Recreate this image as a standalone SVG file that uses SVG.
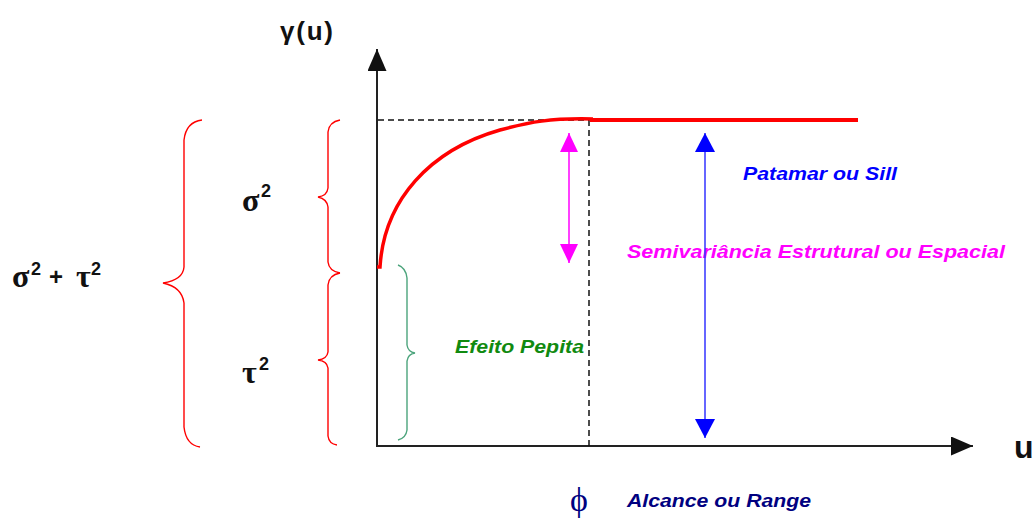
<svg xmlns="http://www.w3.org/2000/svg" width="1034" height="518" viewBox="0 0 1034 518">
<style>
.ax{stroke:#222;stroke-width:2;fill:none}
.dash{stroke:#111;stroke-width:1.5;stroke-dasharray:6 4;fill:none}
.brace{stroke:#ff0000;stroke-width:1.4;fill:none}
.gbrace{stroke:#4ca47c;stroke-width:1.4;fill:none}
.sym{font-family:"Liberation Sans",Arial,sans-serif;font-weight:bold;fill:#111}
.grk{font-family:"Liberation Serif","DejaVu Serif",serif;font-weight:bold;fill:#111}
.lbl{font-family:"Liberation Sans",Arial,sans-serif;font-weight:bold;font-style:italic;font-size:18px}
</style>
<defs>
<marker id="mh" markerUnits="userSpaceOnUse" markerWidth="20" markerHeight="20" refX="19" refY="9" orient="auto-start-reverse"><path d="M0,0 L19,9 L0,18 z" fill="#ff00ff"/></marker>
<marker id="bh" markerUnits="userSpaceOnUse" markerWidth="22" markerHeight="22" refX="19" refY="10" orient="auto-start-reverse"><path d="M0,0 L19,10 L0,20 z" fill="#0000ff"/></marker>
<marker id="kh" markerUnits="userSpaceOnUse" markerWidth="24" markerHeight="22" refX="22" refY="9.5" orient="auto"><path d="M0,0 L22,9.5 L0,19 z" fill="#111"/></marker>
</defs>

<g id="axes">
<line class="ax" x1="377" y1="446" x2="377" y2="49" marker-end="url(#kh)"/>
<line class="ax" x1="376" y1="446" x2="973" y2="446" marker-end="url(#kh)"/>
<text class="sym" x="280" y="40" font-size="26" textLength="53">γ(u)</text>
<text class="sym" x="1014" y="458" font-size="32">u</text>
</g>

<g id="guides">
<line class="dash" x1="378" y1="120" x2="589" y2="120"/>
<line class="dash" x1="589" y1="120" x2="589" y2="446"/>
</g>

<g id="curve">
<path d="M377,267 L380,267 C384,200 430,150 500,130 C530,122 550,118 593,119" stroke="#ff0000" stroke-width="3.5" fill="none"/>
<line x1="590" y1="120" x2="858" y2="120" stroke="#ff0000" stroke-width="4"/>
</g>

<g id="brace-total">
<path class="brace" d="M202,120 Q186,122 184,140 L184,267 Q183,280 163,283 Q182,287 184,303 L184,427 Q186,445 200,447"/>
<text class="grk" x="12" y="287" font-size="32">σ</text>
<text class="sym" x="31" y="275" font-size="18">2</text>
<text class="sym" x="49" y="285" font-size="24">+</text>
<text class="grk" x="76" y="287" font-size="32">τ</text>
<text class="sym" x="91" y="275" font-size="18">2</text>
</g>

<g id="brace-sigma">
<path class="brace" d="M340,120 Q329,122 328,132 L328,188 Q327,196 318,197 Q327,199 328,207 L328,262 Q329,271 340,273"/>
<text class="grk" x="242" y="211" font-size="32">σ</text>
<text class="sym" x="261" y="197" font-size="18">2</text>
</g>

<g id="brace-tau">
<path class="brace" d="M340,273 Q329,275 328,285 L328,352 Q327,359 318,360 Q327,361 328,368 L328,436 Q329,444 337,445"/>
<text class="grk" x="242" y="383" font-size="32">τ</text>
<text class="sym" x="259" y="370" font-size="18">2</text>
</g>

<g id="nugget">
<path class="gbrace" d="M398,265 Q406,268 407,278 L407,345 Q408,352 415,353 Q408,354 407,361 L407,430 Q406,438 398,440"/>
<text class="lbl" x="455" y="353" fill="#108a10" textLength="129" lengthAdjust="spacingAndGlyphs">Efeito Pepita</text>
</g>

<g id="sill-label">
<text class="lbl" x="743" y="180" fill="#0000ff" textLength="154" lengthAdjust="spacingAndGlyphs">Patamar ou Sill</text>
</g>

<g id="structural-label">
<text class="lbl" x="627" y="258" fill="#ff00ff" textLength="378" lengthAdjust="spacingAndGlyphs">Semivariância Estrutural ou Espacial</text>
</g>

<g id="range-label">
<text x="570" y="511" font-family="Liberation Serif, DejaVu Serif, serif" font-size="34" fill="#000080">ϕ</text>
<text class="lbl" x="627" y="507" fill="#000080" textLength="184" lengthAdjust="spacingAndGlyphs">Alcance ou Range</text>
</g>

<g id="connectors">
<line x1="569" y1="133" x2="569" y2="263" stroke="#ff00ff" stroke-width="1.5" marker-start="url(#mh)" marker-end="url(#mh)"/>
<line x1="705" y1="133" x2="705" y2="438" stroke="#3333ff" stroke-width="1.5" marker-start="url(#bh)" marker-end="url(#bh)"/>
</g>
</svg>
